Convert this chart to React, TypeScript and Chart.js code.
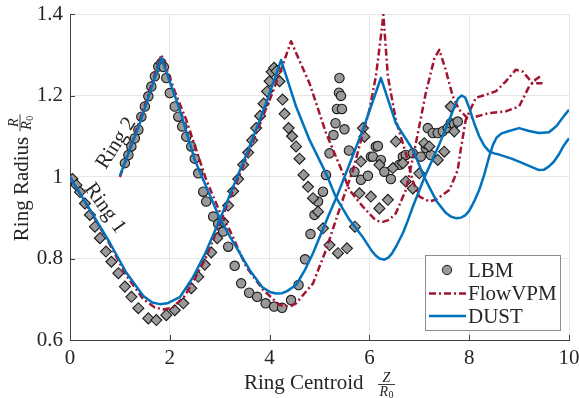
import React, { useEffect, useRef } from 'react';
import { Chart, registerables } from 'chart.js';

Chart.register(...registerables);

// ---- axes ----
const xTicks = [0, 2, 4, 6, 8, 10];
const xTickLabels = ['0', '2', '4', '6', '8', '10'];
const yTicks = [0.6, 0.8, 1, 1.2, 1.4];
const yTickLabels = ['0.6', '0.8', '1', '1.2', '1.4'];

// ---- DUST (solid blue) ----
const dustRing1Z = [0, 0.4, 0.8, 1.13, 1.47, 1.65, 1.8, 1.95, 2.2, 2.47, 2.7, 3.0, 3.3, 3.6, 3.93, 4.23, 4.53, 4.8, 5.13, 5.33, 5.6, 5.87, 6.05, 6.12, 6.2, 6.3, 6.38, 6.45, 6.55, 6.67, 6.77, 6.87, 7.1, 7.4, 7.6, 7.68, 7.78, 7.85, 7.92, 8.0, 8.1, 8.2, 8.3, 8.4, 8.5, 8.6, 8.85, 9.07, 9.4, 9.5, 9.6, 9.7, 9.8, 9.9, 10];
const dustRing1R = [1.0, 0.92, 0.838, 0.765, 0.708, 0.692, 0.688, 0.69, 0.705, 0.755, 0.81, 0.895, 0.985, 1.075, 1.181, 1.287, 1.173, 1.091, 1.009, 0.95, 0.895, 0.852, 0.818, 0.808, 0.8, 0.797, 0.802, 0.812, 0.833, 0.862, 0.893, 0.927, 0.998, 1.08, 1.14, 1.165, 1.193, 1.2, 1.195, 1.17, 1.132, 1.1, 1.077, 1.063, 1.058, 1.055, 1.045, 1.034, 1.017, 1.018, 1.026, 1.038, 1.056, 1.078, 1.095];
const dustRing2Z = [1.0, 1.4, 1.83, 2.2, 2.5, 2.67, 3.0, 3.2, 3.6, 3.85, 4.0, 4.13, 4.25, 4.35, 4.53, 4.7, 4.87, 5.2, 5.33, 5.53, 5.87, 6.23, 6.53, 6.87, 7.1, 7.2, 7.35, 7.53, 7.63, 7.73, 7.83, 7.92, 8.0, 8.1, 8.2, 8.3, 8.4, 8.48, 8.55, 8.65, 8.8, 9.0, 9.2, 9.4, 9.6, 9.75, 9.9, 10];
const dustRing2R = [1.003, 1.132, 1.292, 1.165, 1.042, 0.993, 0.899, 0.855, 0.772, 0.73, 0.718, 0.714, 0.715, 0.72, 0.735, 0.77, 0.813, 0.911, 0.947, 1.009, 1.116, 1.243, 1.132, 1.067, 1.0, 0.975, 0.94, 0.912, 0.903, 0.899, 0.9, 0.906, 0.917, 0.94, 0.968, 1.005, 1.05, 1.08, 1.097, 1.107, 1.113, 1.12, 1.113, 1.108, 1.11, 1.125, 1.15, 1.165];

// ---- FlowVPM (dash-dot dark red) ----
const vpmRing1Z = [0, 0.4, 0.8, 1.13, 1.47, 1.7, 1.87, 2.05, 2.3, 2.5, 2.73, 3.0, 3.5, 4.03, 4.25, 4.43, 4.6, 4.8, 5.13, 5.47, 5.6, 5.87, 6.13, 6.27, 6.4, 6.53, 6.73, 6.87, 7.0, 7.13, 7.3, 7.4, 7.53, 7.67, 7.8, 7.97, 8.13, 8.4, 8.73, 9.0, 9.2, 9.33, 9.47];
const vpmRing1R = [1.0, 0.918, 0.834, 0.758, 0.7, 0.68, 0.675, 0.679, 0.708, 0.75, 0.804, 0.886, 1.037, 1.198, 1.27, 1.333, 1.285, 1.23, 1.108, 1.009, 0.968, 0.927, 0.893, 0.89, 0.895, 0.911, 0.968, 1.045, 1.125, 1.206, 1.29, 1.312, 1.263, 1.198, 1.165, 1.144, 1.148, 1.157, 1.161, 1.173, 1.222, 1.239, 1.251];
const vpmRing2Z = [1.0, 1.4, 1.83, 2.1, 2.33, 2.73, 3.0, 3.2, 3.53, 3.87, 4.2, 4.4, 4.53, 4.87, 5.13, 5.33, 5.53, 5.67, 6.0, 6.13, 6.23, 6.28, 6.37, 6.53, 6.73, 6.87, 7.0, 7.2, 7.33, 7.6, 7.77, 7.83, 7.93, 8.13, 8.33, 8.53, 8.73, 8.93, 9.07, 9.27, 9.47];
const vpmRing2R = [1.0, 1.14, 1.3, 1.21, 1.14, 0.993, 0.915, 0.87, 0.78, 0.723, 0.686, 0.682, 0.69, 0.739, 0.821, 0.895, 0.968, 1.017, 1.165, 1.247, 1.345, 1.398, 1.247, 1.14, 1.058, 0.99, 0.952, 0.94, 0.944, 0.968, 1.017, 1.067, 1.14, 1.194, 1.202, 1.21, 1.234, 1.263, 1.259, 1.23, 1.23];

// ---- LBM (markers) ----
const lbmRing1Z = [0.05, 0.13, 0.2, 0.3, 0.4, 0.5, 0.6, 0.72, 0.83, 0.97, 1.1, 1.23, 1.37, 1.57, 1.73, 1.93, 2.1, 2.27, 2.43, 2.57, 2.7, 2.83, 2.95, 3.07, 3.17, 3.27, 3.37, 3.47, 3.57, 3.65, 3.73, 3.81, 3.88, 3.95, 4.0, 4.04, 4.09, 4.14, 4.2, 4.26, 4.3, 4.38, 4.45, 4.53, 4.6, 4.68, 4.77, 4.87, 4.97, 5.07, 5.2, 5.37, 5.55, 5.71, 5.8, 5.87, 5.9, 5.83, 6.03, 6.2, 6.37, 6.2, 6.47, 6.53, 6.67, 6.73, 6.87, 7.0, 7.1, 7.2, 7.37, 7.5, 7.63, 7.7];
const lbmRing1R = [0.995, 0.98, 0.963, 0.935, 0.907, 0.878, 0.85, 0.817, 0.792, 0.764, 0.731, 0.706, 0.678, 0.653, 0.649, 0.661, 0.673, 0.69, 0.727, 0.755, 0.785, 0.815, 0.85, 0.89, 0.93, 0.965, 0.995, 1.03, 1.06, 1.09, 1.12, 1.15, 1.18, 1.21, 1.235, 1.258, 1.268, 1.26, 1.235, 1.19, 1.155, 1.12, 1.1, 1.075, 1.045, 1.005, 0.976, 0.948, 0.915, 0.874, 0.833, 0.813, 0.825, 0.878, 0.96, 1.12, 1.099, 1.038, 0.952, 0.923, 0.944, 1.03, 1.022, 1.087, 1.034, 0.989, 0.972, 1.009, 1.083, 1.075, 1.042, 1.062, 1.173, 1.112];
const lbmRing2Z = [1.1, 1.17, 1.23, 1.3, 1.37, 1.43, 1.5, 1.57, 1.63, 1.7, 1.77, 1.83, 1.88, 1.93, 2.0, 2.1, 2.17, 2.25, 2.33, 2.43, 2.5, 2.57, 2.67, 2.73, 2.87, 2.97, 3.07, 3.17, 3.3, 3.43, 3.59, 3.75, 3.92, 4.09, 4.25, 4.43, 4.58, 4.71, 4.82, 4.9, 4.97, 5.07, 5.13, 5.2, 5.28, 5.32, 5.35, 5.39, 5.4, 5.43, 5.45, 5.5, 5.59, 5.7, 5.83, 5.97, 6.03, 6.07, 6.13, 6.17, 6.23, 6.3, 6.43, 6.6, 6.67, 6.73, 6.87, 7.03, 7.13, 7.17, 7.23, 7.27, 7.37, 7.47, 7.57, 7.63, 7.7, 7.77];
const lbmRing2R = [1.034, 1.054, 1.075, 1.095, 1.116, 1.148, 1.173, 1.198, 1.222, 1.247, 1.271, 1.28, 1.27, 1.243, 1.206, 1.173, 1.148, 1.124, 1.099, 1.075, 1.045, 1.009, 0.964, 0.94, 0.903, 0.885, 0.866, 0.829, 0.782, 0.739, 0.716, 0.706, 0.69, 0.682, 0.679, 0.698, 0.735, 0.798, 0.86, 0.907, 0.94, 0.964, 1.005, 1.058, 1.103, 1.132, 1.167, 1.207, 1.243, 1.199, 1.167, 1.117, 1.065, 1.013, 0.993, 1.003, 1.05, 1.05, 1.075, 1.076, 1.042, 1.013, 0.995, 1.03, 1.05, 1.054, 1.058, 1.05, 1.071, 1.12, 1.054, 1.108, 1.108, 1.112, 1.12, 1.132, 1.13, 1.136];

// ---- labels ----
const legendLabels = ['LBM', 'FlowVPM', 'DUST'];
const xTitle = 'Ring Centroid';
const yTitle = 'Ring Radius';
const ring1Label = { text: 'Ring 1', z: 0.7, r: 0.923, angle: 54.5 };
const ring2Label = { text: 'Ring 2', z: 0.93, r: 1.083, angle: -57.5 };

const BLUE = '#0072BD';
const RED = '#A2142F';
const GRAY = '#999999';
const TEXT = '#262626';
const SERIF = '"Liberation Serif", "Times New Roman", serif';
const DASH = [7, 3, 2, 3];

const pts = (zs: number[], rs: number[]) => zs.map((z, i) => ({ x: z, y: rs[i] }));

function drawFraction(ctx: CanvasRenderingContext2D, x: number, barY: number, num: string) {
  ctx.save();
  ctx.fillStyle = TEXT;
  ctx.textBaseline = 'alphabetic';
  ctx.font = `italic 14px ${SERIF}`;
  ctx.textAlign = 'center';
  ctx.fillText(num, x, barY - 2.5);
  const rw = ctx.measureText('R').width;
  ctx.font = `10px ${SERIF}`;
  const zw = ctx.measureText('0').width;
  const total = rw + zw + 0.5;
  const left = x - total / 2;
  ctx.textAlign = 'left';
  ctx.font = `italic 14px ${SERIF}`;
  ctx.fillText('R', left, barY + 11);
  ctx.font = `10px ${SERIF}`;
  ctx.fillText('0', left + rw + 0.5, barY + 13);
  ctx.strokeStyle = TEXT;
  ctx.lineWidth = 0.9;
  ctx.beginPath();
  ctx.moveTo(x - total / 2 - 1.5, barY);
  ctx.lineTo(x + total / 2 + 1.5, barY);
  ctx.stroke();
  ctx.restore();
}

const overlay = {
  id: 'overlay',
  beforeDatasetsDraw(chart: any) {
    const { ctx, chartArea: ca, scales } = chart;
    ctx.save();
    ctx.strokeStyle = '#404040';
    ctx.lineWidth = 1;
    ctx.beginPath();
    xTicks.forEach((v) => {
      const x = Math.round(scales.x.getPixelForValue(v)) + 0.5;
      ctx.moveTo(x, ca.bottom);
      ctx.lineTo(x, ca.bottom - 5);
    });
    yTicks.forEach((v) => {
      const y = Math.round(scales.y.getPixelForValue(v)) + 0.5;
      ctx.moveTo(ca.left, y);
      ctx.lineTo(ca.left + 5, y);
    });
    ctx.stroke();
    ctx.restore();
  },
  afterDraw(chart: any) {
    const { ctx, chartArea: ca, scales } = chart;
    ctx.save();
    ctx.fillStyle = TEXT;

    // x title with fraction Z / R0
    const cx = (ca.left + ca.right) / 2;
    ctx.font = `21px ${SERIF}`;
    ctx.textAlign = 'right';
    ctx.textBaseline = 'alphabetic';
    ctx.fillText(xTitle, cx + 44, ca.bottom + 49);
    drawFraction(ctx, cx + 67, ca.bottom + 44.5, 'Z');

    // y title rotated with fraction R / R0
    ctx.font = `21px ${SERIF}`;
    const w = ctx.measureText(yTitle).width;
    const yc = (ca.top + ca.bottom) / 2 + 12;
    ctx.save();
    ctx.translate(28, yc);
    ctx.rotate(-Math.PI / 2);
    ctx.textAlign = 'center';
    ctx.fillText(yTitle, 0, 0);
    ctx.restore();
    ctx.save();
    ctx.translate(20, yc - w / 2 - 14);
    ctx.rotate(-Math.PI / 2);
    drawFraction(ctx, 0, 0, 'R');
    ctx.restore();

    // ring annotations
    [ring1Label, ring2Label].forEach((l) => {
      const x = scales.x.getPixelForValue(l.z);
      const y = scales.y.getPixelForValue(l.r);
      ctx.save();
      ctx.translate(x, y);
      ctx.rotate((l.angle * Math.PI) / 180);
      ctx.font = `21px ${SERIF}`;
      ctx.fillStyle = TEXT;
      ctx.textAlign = 'center';
      ctx.textBaseline = 'middle';
      ctx.fillText(l.text, 0, 0);
      ctx.restore();
    });

    // legend
    const bx = ca.right - 144;
    const by = ca.bottom - 85;
    ctx.fillStyle = '#ffffff';
    ctx.fillRect(bx, by, 135, 75);
    ctx.strokeStyle = '#8c8c8c';
    ctx.lineWidth = 1;
    ctx.strokeRect(bx + 0.5, by + 0.5, 135, 75);
    const rows = [by + 15, by + 38.5, by + 61];
    ctx.beginPath();
    ctx.arc(bx + 22, rows[0], 4.7, 0, Math.PI * 2);
    ctx.fillStyle = GRAY;
    ctx.fill();
    ctx.strokeStyle = '#1a1a1a';
    ctx.stroke();
    ctx.beginPath();
    ctx.setLineDash(DASH);
    ctx.strokeStyle = RED;
    ctx.lineWidth = 2.5;
    ctx.moveTo(bx + 4, rows[1]);
    ctx.lineTo(bx + 41, rows[1]);
    ctx.stroke();
    ctx.setLineDash([]);
    ctx.beginPath();
    ctx.strokeStyle = BLUE;
    ctx.moveTo(bx + 4, rows[2]);
    ctx.lineTo(bx + 41, rows[2]);
    ctx.stroke();
    ctx.fillStyle = TEXT;
    ctx.font = `21px ${SERIF}`;
    ctx.textAlign = 'left';
    ctx.textBaseline = 'middle';
    legendLabels.forEach((t, i) => ctx.fillText(t, bx + 43, rows[i] + 1));
    ctx.restore();
  },
};

export default function App() {
  const ref = useRef<HTMLCanvasElement>(null);
  useEffect(() => {
    if (!ref.current) return;
    const lineDs = (data: any, color: string, dash: number[]) => ({
      data,
      showLine: true,
      borderColor: color,
      backgroundColor: color,
      borderWidth: 2.5,
      borderDash: dash,
      borderJoinStyle: 'round',
      pointRadius: 0,
      fill: false,
      tension: 0,
    });
    const markerDs = (data: any, style: string, radius: number) => ({
      data,
      showLine: false,
      pointStyle: style,
      pointRadius: radius,
      pointBackgroundColor: GRAY,
      pointBorderColor: '#1a1a1a',
      pointBorderWidth: 1.1,
      order: 3,
    });
    const chart = new Chart(ref.current, {
      type: 'scatter',
      data: {
        datasets: [
          { label: 'DUST Ring 1', ...lineDs(pts(dustRing1Z, dustRing1R), BLUE, []), order: 1 },
          { label: 'DUST Ring 2', ...lineDs(pts(dustRing2Z, dustRing2R), BLUE, []), order: 1 },
          { label: 'FlowVPM Ring 1', ...lineDs(pts(vpmRing1Z, vpmRing1R), RED, DASH), order: 2 },
          { label: 'FlowVPM Ring 2', ...lineDs(pts(vpmRing2Z, vpmRing2R), RED, DASH), order: 2 },
          { label: 'LBM Ring 1', ...markerDs(pts(lbmRing1Z, lbmRing1R), 'rectRot', 5.5) },
          { label: 'LBM Ring 2', ...markerDs(pts(lbmRing2Z, lbmRing2R), 'circle', 4.7) },
        ] as any,
      },
      options: {
        animation: false,
        responsive: false,
        events: [],
        layout: { padding: { left: 0, top: 14, right: 10, bottom: 0 } },
        plugins: { legend: { display: false }, tooltip: { enabled: false } },
        scales: {
          x: {
            type: 'linear',
            min: 0,
            max: 10,
            afterBuildTicks: (s: any) => {
              s.ticks = xTicks.map((v) => ({ value: v }));
            },
            afterFit: (s: any) => {
              s.height = 58;
              s.paddingLeft = 0;
              s.paddingRight = 0;
            },
            ticks: {
              callback: (_v: any, i: number) => xTickLabels[i],
              font: { family: SERIF, size: 21 },
              color: TEXT,
              padding: 6,
              maxRotation: 0,
              autoSkip: false,
            },
            grid: { color: '#e6e6e6', drawTicks: false, lineWidth: 1 },
            border: { color: '#404040', width: 1 },
          },
          y: {
            type: 'linear',
            min: 0.6,
            max: 1.4,
            afterBuildTicks: (s: any) => {
              s.ticks = yTicks.map((v) => ({ value: v }));
            },
            afterFit: (s: any) => {
              s.width = 70;
              s.paddingTop = 0;
              s.paddingBottom = 0;
            },
            ticks: {
              callback: (_v: any, i: number) => yTickLabels[i],
              font: { family: SERIF, size: 21 },
              color: TEXT,
              padding: 7,
              autoSkip: false,
            },
            grid: { color: '#e6e6e6', drawTicks: false, lineWidth: 1 },
            border: { color: '#404040', width: 1 },
          },
        },
      } as any,
      plugins: [overlay],
    });
    return () => chart.destroy();
  }, []);
  return (
    <div style={{ position: 'fixed', left: 0, top: 0, width: 579, height: 398, background: '#fff' }}>
      <canvas ref={ref} width={579} height={398} style={{ display: 'block', width: 579, height: 398 }} />
    </div>
  );
}
